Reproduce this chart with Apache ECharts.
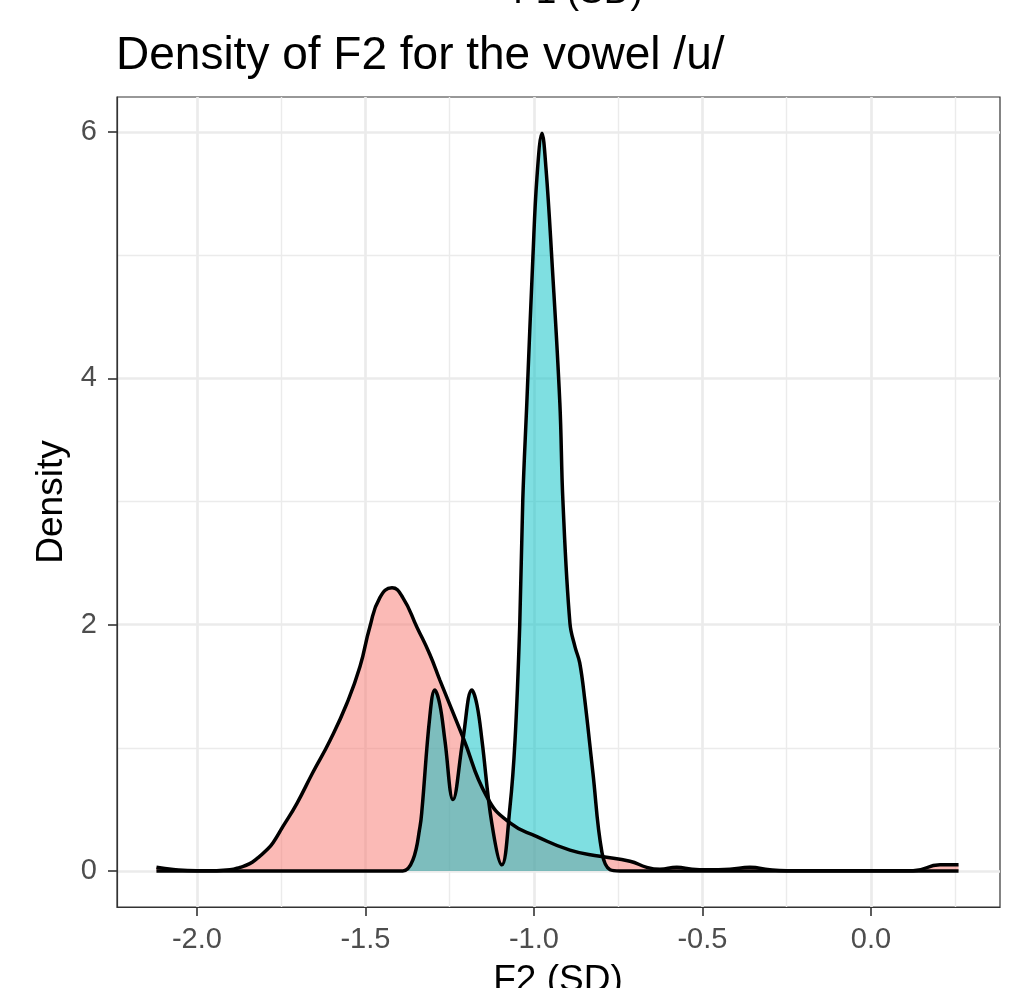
<!DOCTYPE html>
<html>
<head>
<meta charset="utf-8">
<script src="https://cdn.jsdelivr.net/npm/echarts@6/dist/echarts.min.js"></script>
<style>
html,body{margin:0;padding:0;background:#fff;}
#chart{width:1012px;height:988px;}
</style>
</head>
<body>
<div id="chart"></div>
<script>
// ---- data ----
const redX = [-2.12, -2.07, -2.0, -1.95, -1.902, -1.872, -1.843, -1.822, -1.793, -1.774, -1.745, -1.703, -1.656, -1.605, -1.555, -1.516, -1.487, -1.457, -1.421, -1.389, -1.347, -1.309, -1.279, -1.211, -1.139, -1.071, -0.991, -0.893, -0.804, -0.715, -0.665, -0.626, -0.576, -0.531, -0.487, -0.418, -0.359, -0.300, -0.249, -0.062, 0.125, 0.205, 0.26];
const redY = [0.03, 0.012, 0.002, 0.003, 0.01, 0.03, 0.06, 0.10, 0.17, 0.23, 0.36, 0.55, 0.80, 1.06, 1.36, 1.66, 1.98, 2.22, 2.30, 2.22, 1.98, 1.76, 1.55, 1.09, 0.60, 0.39, 0.28, 0.17, 0.12, 0.08, 0.03, 0.015, 0.03, 0.015, 0.01, 0.015, 0.03, 0.01, 0.003, 0.003, 0.003, 0.05, 0.05];
const tealX = [-2.12, -1.60, -1.40, -1.389, -1.359, -1.338, -1.332, -1.309, -1.294, -1.279, -1.264, -1.240, -1.211, -1.184, -1.169, -1.154, -1.125, -1.095, -1.071, -1.056, -1.042, -1.033, -1.021, -1.003, -0.991, -0.976, -0.964, -0.947, -0.923, -0.914, -0.893, -0.878, -0.864, -0.849, -0.825, -0.798, -0.774, -0.745, -0.5, 0.26];
const tealY = [0, 0, 0, 0.0, 0.09, 0.36, 0.5, 1.25, 1.47, 1.35, 1.06, 0.58, 1.06, 1.47, 1.35, 1.06, 0.39, 0.05, 0.52, 1.06, 2.0, 3.01, 3.8, 4.98, 5.63, 5.99, 5.7, 4.98, 3.8, 3.01, 2.01, 1.82, 1.69, 1.39, 0.80, 0.15, 0.01, 0, 0, 0];
const xTicks = [-2.0, -1.5, -1.0, -0.5, 0.0];
const xMinor = [-1.75, -1.25, -0.75, -0.25, 0.25];
const yTicks = [0, 2, 4, 6];
const yMinor = [1, 3, 5];
const titleText = 'Density of F2 for the vowel /u/';
const xTitle = 'F2 (SD)';
const yTitle = 'Density';
const prevTitle = 'F1 (SD)';

const pairs = (xs, ys) => xs.map((x, i) => [x, ys[i]]);

const majorStyle = {color: '#EBEBEB', width: 2.7, type: 'solid'};
const minorStyle = {color: '#EBEBEB', width: 1.4, type: 'solid'};
const gridLines = []
  .concat(xMinor.map(v => ({xAxis: v, lineStyle: minorStyle})))
  .concat(yMinor.map(v => ({yAxis: v, lineStyle: minorStyle})))
  .concat(xTicks.map(v => ({xAxis: v, lineStyle: majorStyle})))
  .concat(yTicks.map(v => ({yAxis: v, lineStyle: majorStyle})));

const chart = echarts.init(document.getElementById('chart'), null, {renderer: 'canvas'});
const font = 'Liberation Sans, Arial, Helvetica, sans-serif';
chart.setOption({
  animation: false,
  backgroundColor: '#ffffff',
  textStyle: {fontFamily: font},
  title: {
    text: titleText, left: 111, top: 28,
    textStyle: {fontSize: 46, fontWeight: 'normal', color: '#000', fontFamily: font}
  },
  graphic: [
    {type: 'text', x: 578, y: -26, silent: true, style: {text: prevTitle, fontSize: 37, fontFamily: font, fill: '#000', textAlign: 'center', textVerticalAlign: 'top'}},
    {type: 'text', x: 558, y: 962, silent: true, style: {text: xTitle, fontSize: 37, fontFamily: font, fill: '#000', textAlign: 'center', textVerticalAlign: 'top'}},
    {type: 'text', x: 52, y: 502, rotation: Math.PI / 2, silent: true, style: {text: yTitle, fontSize: 37, fontFamily: font, fill: '#000', textAlign: 'center', textVerticalAlign: 'middle'}}
  ],
  grid: {left: 117, right: 12, top: 97, bottom: 81, show: true, borderColor: '#333333', borderWidth: 1.2, backgroundColor: '#fff', containLabel: false, outerBoundsMode: 'none'},
  xAxis: {
    type: 'value', min: -2.237, max: 0.383,
    axisLine: {show: true, onZero: false, lineStyle: {color: '#333333', width: 1.2}},
    axisTick: {show: true, length: 9, lineStyle: {color: '#333333', width: 1.6}, customValues: xTicks},
    axisLabel: {customValues: xTicks, fontSize: 29, color: '#4D4D4D', margin: 18, formatter: v => v.toFixed(1)},
    splitLine: {show: false}
  },
  yAxis: {
    type: 'value', min: -0.292, max: 6.284,
    axisLine: {show: true, onZero: false, lineStyle: {color: '#333333', width: 1.2}},
    axisTick: {show: true, length: 9, lineStyle: {color: '#333333', width: 1.6}, customValues: yTicks},
    axisLabel: {customValues: yTicks, fontSize: 29, color: '#4D4D4D', margin: 20, formatter: v => String(Math.round(v))},
    splitLine: {show: false}
  },
  series: [
    {
      type: 'line', data: [], z: 0, silent: true,
      markLine: {z: 0, silent: true, symbol: ['none', 'none'], label: {show: false}, animation: false, data: gridLines}
    },
    {
      name: 'red', type: 'line', z: 3, data: pairs(redX, redY), smooth: 0.5, showSymbol: false,
      lineStyle: {color: '#000', width: 3.5},
      areaStyle: {color: '#F8766D', opacity: 0.5, origin: 0}
    },
    {
      name: 'teal', type: 'line', z: 3, data: pairs(tealX, tealY), smooth: 0.4, showSymbol: false,
      lineStyle: {color: '#000', width: 3.5},
      areaStyle: {color: '#00BFC4', opacity: 0.5, origin: 0}
    }
  ]
});
</script>
</body>
</html>
